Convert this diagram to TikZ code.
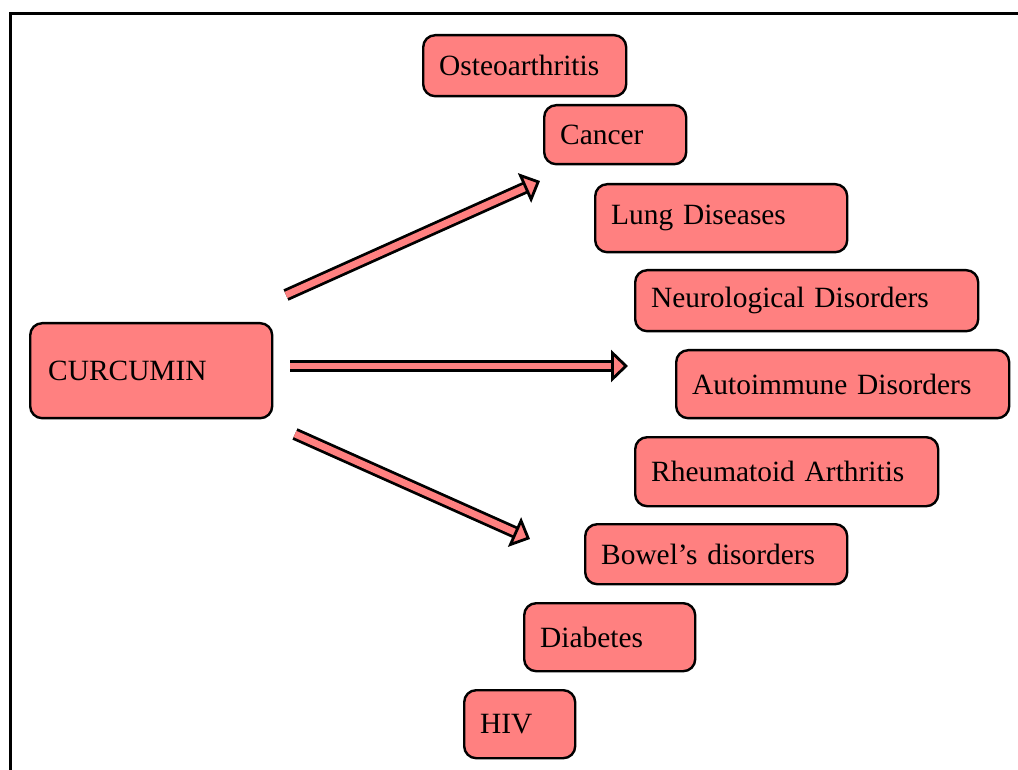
\documentclass[tikz,border=0pt]{standalone}
\usepackage{fontspec}
\setmainfont{Liberation Serif}
\usepackage{xcolor}
\usetikzlibrary{arrows.meta}

\definecolor{boxpink}{RGB}{255,128,128}

\tikzset{
  disease/.style={draw, fill=boxpink, rounded corners=6pt, line width=1.2pt,
    anchor=north west, align=left, inner xsep=8pt, inner ysep=0pt,
    font=\fontsize{14.7}{17}\selectfont, text width=#1},
  bigarrow/.style={line width=1.4pt, double=boxpink, double distance=3.4pt,
    -{Triangle[length=8.5pt, width=16pt, fill=boxpink, line join=miter]}}
}

\begin{document}
\begin{tikzpicture}[x=0.5pt, y=-0.5pt]
\useasboundingbox (0,0) rectangle (1018,770);

% cadre
\draw[line width=1.5pt] (10,790) |- (1040,14);

% source
\node[disease=103pt, minimum height=47.5pt, inner xsep=9pt] (curcumin) at (29,322) {CURCUMIN};

% maladies
\node[disease=85.5pt, minimum height=30.5pt] (osteo) at (422,34) {Osteoarthritis};
\node[disease=55pt, minimum height=29.5pt] (cancer) at (543,104) {Cancer};
\node[disease=110pt, minimum height=34pt] (lung) at (594,183) {Lung Diseases};
\node[disease=155.5pt, minimum height=30.5pt] (neuro) at (634,269) {Neurological Disorders};
\node[disease=150.5pt, minimum height=34pt] (auto) at (675,349) {Autoimmune Disorders};
\node[disease=135.5pt, minimum height=34.5pt] (rheuma) at (634,436) {Rheumatoid Arthritis};
\node[disease=115pt, minimum height=30pt] (bowel) at (584,523) {Bowel’s disorders};
\node[disease=69.5pt, minimum height=34pt] (diabetes) at (523,602) {Diabetes};
\node[disease=39.5pt, minimum height=34pt] (hiv) at (463,689) {HIV};

% fleches
\coordinate (up0) at (286,295);
\coordinate (up1) at (540,181);
\coordinate (mid0) at (290,366);
\coordinate (mid1) at (628,366);
\coordinate (low0) at (295,434);
\coordinate (low1) at (530,539);

\draw[bigarrow] (up0) -- (up1);
\draw[bigarrow] (mid0) -- (mid1);
\draw[bigarrow] (low0) -- (low1);

\end{tikzpicture}
\end{document}
